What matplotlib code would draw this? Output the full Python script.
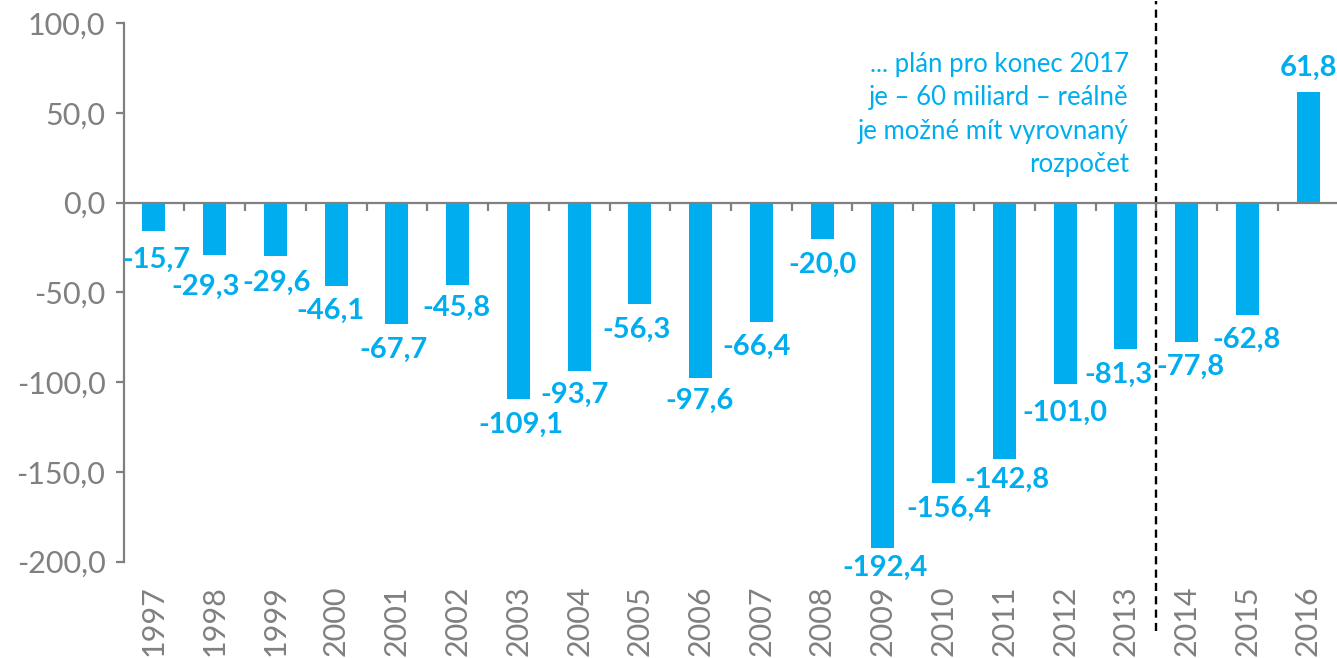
import matplotlib
matplotlib.use("Agg")
import matplotlib.pyplot as plt
from matplotlib.ticker import FixedLocator, FuncFormatter

# data
roky = ["1997", "1998", "1999", "2000", "2001", "2002", "2003", "2004", "2005", "2006",
        "2007", "2008", "2009", "2010", "2011", "2012", "2013", "2014", "2015", "2016"]
saldo = [-15.7, -29.3, -29.6, -46.1, -67.7, -45.8, -109.1, -93.7, -56.3, -97.6,
         -66.4, -20.0, -192.4, -156.4, -142.8, -101.0, -81.3, -77.8, -62.8, 61.8]
poznamka = "... plán pro konec 2017\nje – 60 miliard – reálně\nje možné mít vyrovnaný\nrozpočet"
y_ticks = [-200, -150, -100, -50, 0, 50, 100]

# label shifts from the bar end (pixels, baseline)
posun_x = [2.5, -9, 1, -6, -3.5, -1, 3, -5, -3.5, -1, -5, 0, 2, 5, 3, 0, -7.5, 4, -1, 0]
posun_y = [-36.5, -40, -35, -33.6, -33.2, -31, -34, -31.5, -33.7, -31, -33, -33.8,
           -27.5, -33.3, -29.3, -36.7, -34, -32, -32, 16]

MODRA = "#00AEEF"
SEDA = "#808080"
FONT = "Lato"

plt.rcParams["font.family"] = [FONT, "DejaVu Sans"]
plt.rcParams["lines.scale_dashes"] = False

fig = plt.figure(figsize=(13.37, 6.58), dpi=100)
W, H = 1337.0, 658.0
ax = fig.add_axes([123.5 / W, 1 - 561.7 / H, (W - 123.5) / W, (561.7 - 23.3) / H])

x = list(range(len(roky)))
ax.bar(x, saldo, width=0.38, color=MODRA, zorder=2)

ax.set_xlim(-0.5, -0.5 + (W - 123.5) / 60.75)
ax.set_ylim(-200, 100)

# spines
for s in ["top", "right"]:
    ax.spines[s].set_visible(False)
ax.spines["left"].set_color(SEDA)
ax.spines["left"].set_linewidth(1.6)
ax.spines["bottom"].set_position(("data", 0))
ax.spines["bottom"].set_color(SEDA)
ax.spines["bottom"].set_linewidth(1.6)
ax.spines["bottom"].set_zorder(3)

# y axis
ax.yaxis.set_major_locator(FixedLocator(y_ticks))
ax.yaxis.set_major_formatter(FuncFormatter(lambda v, p: f"{v:.1f}".replace(".", ",")))
ax.tick_params(axis="y", direction="out", length=6, width=1.6, color=SEDA,
               labelcolor=SEDA, labelsize=22, pad=7)

# x axis at zero: only small ticks between bars
ax.xaxis.set_major_locator(FixedLocator([]))
ax.xaxis.set_minor_locator(FixedLocator([i + 0.5 for i in range(len(roky))]))
ax.tick_params(axis="x", which="minor", direction="out", length=6, width=1.6, color=SEDA)

# year labels at the bottom
sec = ax.secondary_xaxis("bottom")
sec.set_xticks(x)
sec.set_xticklabels(roky, rotation=90)
sec.spines["bottom"].set_visible(False)
sec.tick_params(axis="x", length=0, pad=17, labelcolor=SEDA, labelsize=22)

# value labels
for i in range(len(saldo)):
    ax.annotate(f"{saldo[i]:.1f}".replace(".", ","), xy=(x[i], saldo[i]),
                xytext=(posun_x[i], posun_y[i]), textcoords="offset pixels",
                ha="center", va="baseline", color=MODRA, fontsize=21,
                fontweight="bold", zorder=4)

# dashed line between 2013 and 2014
ax.plot([16.5, 16.5], [-238.5, 112.5], color="black", lw=1.7, dashes=[5.8, 3.8],
        clip_on=False, zorder=1)

ax.text(16.05, 84, poznamka, ha="right", va="top", color=MODRA, fontsize=18.5,
        linespacing=1.42)

fig.savefig("out.png", dpi=100)
